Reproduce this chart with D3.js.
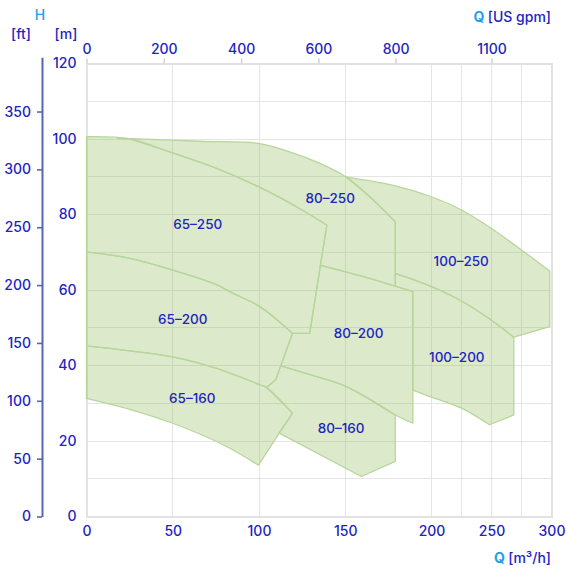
<!DOCTYPE html>
<html>
<head>
<meta charset="utf-8">
<script src="https://cdn.jsdelivr.net/npm/d3@7"></script>
<style>
  html,body{margin:0;padding:0;background:#fff;}
  svg text{font-family:Inter,"Noto Sans",sans-serif;font-weight:500;}
</style>
</head>
<body>
<svg id="chart" width="566" height="570"></svg>
<script>
// ---------- data (Q in m3/h, H in m) ----------
const qTicks = [0, 50, 100, 150, 200, 250, 300];
const qGrid = [0, 50, 100, 150, 200, 225, 250, 275, 300];
const hTicks = [0, 20, 40, 60, 80, 100, 120];
const hGrid = [0, 10, 20, 30, 40, 50, 60, 70, 80, 90, 100, 110, 120];
const ftTicks = [0, 50, 100, 150, 200, 250, 300, 350];
const gpmTicks = [0, 200, 400, 600, 800, 1100];

const top65_250 = [[0,100.6],[25,100.0],[50,96.3],[75,92.3],[100,87.3],[125,81.2],[139.3,77.2]];
const edge65_250 = [[139.3,77.2],[135.6,66.5],[129.4,48.5],[119.4,48.5]];
const top65_200 = [[0,70.1],[25,68.4],[50,65.3],[75,61.5],[85,59.1],[100.5,55.6],[119.4,48.5]];
const edge65_200 = [[119.4,48.5],[112.6,39.9],[109.7,36.2],[104.3,34.2]];
const top65_160 = [[0,45.2],[25,43.9],[50,42.3],[75,39.3],[100.5,34.9],[104.3,34.2],[119.4,27.4]];
const edge65_160 = [[119.4,27.4],[111.7,22.1],[99.7,13.6]];
const bottom65_160 = [[99.7,13.6],[79.2,19.0],[50,24.7],[25,28.4],[0,31.3]];
const top80_250 = [[18,100.2],[65.5,99.4],[100.3,98.8],[117.7,96.6],[135,93.6],[150.6,89.9],[164.2,84.7],[179,78.1]];
const edge80_250 = [[179,78.1],[179,64.4],[179,61.0]];
const top80_200 = [[135.6,66.5],[160,63.6],[179,61.0],[189.2,59.6]];
const edge80_200 = [[189.2,59.6],[189.2,33.5],[189.2,24.7]];
const top80_160 = [[112.6,39.9],[130,37.5],[150.7,34.4],[179,26.9],[189.2,24.7]];
const edge80_160 = [[179,26.9],[179,14.6],[159.4,10.6],[111.7,22.1],[119.4,27.4]];
const top100_250 = [[150.6,89.9],[179,87.6],[200,84.7],[225,81.2],[250,76.3],[275,70.6],[298.5,65.0]];
const edge100_250 = [[298.5,65.0],[298.5,50.3],[268.6,47.5]];
const top100_200 = [[179,64.4],[200,60.9],[225,57.1],[245.8,52.9],[268.6,47.5]];
const edge100_200 = [[268.6,47.5],[268.6,26.9],[248.3,24.3]];
const bottom100_200 = [[248.3,24.3],[225,28.7],[200,31.6],[189.2,33.5]];

const labels = ["65–250","80–250","100–250","65–200","80–200","100–200","65–160","80–160"];
const labelQ = [64.5,141.3,224.75,55.8,157.7,221.1,61.3,147.6];
const labelH = [77.6,84.4,67.6,52.3,48.6,42.3,31.4,23.5];

const M_PER_FT = 0.3065;
const FT_AXIS_MAX = 397;
const gpmBreaks = [0, 892.8, 1100, 1320];
const qBreaks = [0, 200, 250, 300];

// ---------- helpers ----------
const rev = a => a.slice().reverse();
const S = (pts) => ({pts, smooth:true});
const L = (pts) => ({pts, smooth:false});

const polygons = [
  [S(top65_250), L(edge65_250), S(rev(top65_200))],
  [S(top65_200), L(edge65_200), S(rev(top65_160.slice(0,6)))],
  [S(top65_160), L(edge65_160), S(bottom65_160)],
  [S(top80_250), L(edge80_250), S(rev(top80_200.slice(0,3))), L(edge65_250.slice(0,2).reverse()), S(rev(top65_250).slice(0,6))],
  [S(top80_200), L(edge80_200), S(rev(top80_160)), L([[112.6,39.9],[119.4,48.5],[129.4,48.5],[135.6,66.5]])],
  [S(top80_160.slice(0,4)), L(edge80_160), S(rev(top65_160.slice(5))), L([[104.3,34.2],[109.7,36.2],[112.6,39.9]])],
  [S(top100_250), L(edge100_250), S(rev(top100_200)), L([[179,64.4],[179,78.1]]), S(rev(top80_250).slice(0,3))],
  [S(top100_200), L(edge100_200), S(bottom100_200), L([[189.2,33.5],[189.2,59.6],[179,61.0],[179,64.4]])]
];

// ---------- scales ----------
const x = d3.scaleLinear().domain([0,200,300]).range([86.5,431.5,551.5]);
const y = d3.scaleLinear().domain([0,120]).range([516.5,63.5]);
const xGpm = d3.scaleLinear().domain(gpmBreaks).range(qBreaks.map(x));
const yFt = d3.scaleLinear().domain([0, FT_AXIS_MAX]).range([y(0), y(FT_AXIS_MAX*M_PER_FT)]);

const TXT = "#2224bf", LIGHT = "#1e9ff0";
const svg = d3.select("#chart");
const crisp = v => Math.floor(v) + 0.5;

// grid
const grid = svg.append("g");
grid.selectAll("line.v").data(qGrid.filter(d=>d!==0 && d!==300)).join("line")
  .attr("x1",d=>crisp(x(d))).attr("x2",d=>crisp(x(d))).attr("y1",y(0)).attr("y2",y(120))
  .attr("stroke","#e5e5e5").attr("stroke-width",1);
grid.selectAll("line.h").data(hGrid.filter(d=>d!==0 && d!==120)).join("line")
  .attr("x1",x(0)).attr("x2",x(300)).attr("y1",d=>crisp(y(d))).attr("y2",d=>crisp(y(d)))
  .attr("stroke","#e5e5e5").attr("stroke-width",1);
// frame
grid.append("rect").attr("x",Math.round(x(0))).attr("y",Math.round(y(120)))
  .attr("width",Math.round(x(300))-Math.round(x(0))).attr("height",Math.round(y(0))-Math.round(y(120)))
  .attr("fill","none").attr("stroke","#e2e2e2").attr("stroke-width",2);

// polygons
function pathFor(pieces){
  let d = "";
  pieces.forEach((p,i)=>{
    const gen = d3.line().x(v=>x(v[0])).y(v=>y(v[1]))
      .curve(p.smooth ? d3.curveCatmullRom.alpha(0.5) : d3.curveLinear);
    let s = gen(p.pts);
    if(i>0) s = "L" + s.slice(1);
    d += s;
  });
  return d + "Z";
}
const fills = svg.append("g").attr("opacity",0.33);
fills.selectAll("path").data(polygons).join("path")
  .attr("d",pathFor).attr("fill","rgb(150,192,100)").attr("stroke","none");
svg.append("g").selectAll("path").data(polygons).join("path")
  .attr("d",pathFor).attr("fill","none").attr("stroke","#b7d69b")
  .attr("stroke-width",1.3).attr("stroke-linejoin","round");

// region labels
svg.append("g").selectAll("text").data(labels).join("text")
  .attr("x",(d,i)=>x(labelQ[i])).attr("y",(d,i)=>y(labelH[i]))
  .attr("text-anchor","middle").attr("dominant-baseline","central")
  .attr("font-size",13.5).attr("fill",TXT).text(d=>d);

// bottom axis
const gx = svg.append("g").attr("transform",`translate(0,${y(0)})`)
  .call(d3.axisBottom(x).tickValues(qTicks).tickSize(0).tickPadding(10).tickFormat(d3.format("d")));
gx.select(".domain").remove();
gx.selectAll("text").attr("font-size",14).attr("fill",TXT).attr("font-family",null);

// left m axis
const gy = svg.append("g").attr("transform",`translate(${x(0)},0)`)
  .call(d3.axisLeft(y).tickValues(hTicks).tickSize(0).tickPadding(10).tickFormat(d3.format("d")));
gy.select(".domain").remove();
gy.selectAll("text").attr("font-size",14).attr("fill",TXT).attr("font-family",null);

// ft axis
const gf = svg.append("g").attr("transform","translate(42,0)")
  .call(d3.axisLeft(yFt).tickValues(ftTicks).tickSize(5).tickSizeOuter(0).tickPadding(6).tickFormat(d3.format("d")));
gf.select(".domain").attr("stroke","#5567b0").attr("stroke-width",2);
gf.selectAll(".tick line").attr("stroke","#5567b0").attr("stroke-width",1.6);
gf.selectAll("text").attr("font-size",14).attr("fill",TXT).attr("font-family",null);

// top gpm axis
const gt = svg.append("g").attr("transform",`translate(0,${y(120)})`)
  .call(d3.axisTop(xGpm).tickValues(gpmTicks).tickSize(5).tickPadding(5).tickFormat(d3.format("d")));
gt.select(".domain").remove();
gt.selectAll(".tick line").attr("stroke","#d2d2d2").attr("stroke-width",1.5);
gt.selectAll("text").attr("font-size",14).attr("fill",TXT).attr("font-family",null);

// titles
const t = svg.append("g").attr("font-size",14);
t.append("text").attr("x",40).attr("y",14).attr("text-anchor","middle").attr("dominant-baseline","central")
  .attr("fill",LIGHT).attr("font-weight",700).text("H");
t.append("text").attr("x",21).attr("y",33).attr("text-anchor","middle").attr("dominant-baseline","central")
  .attr("fill",TXT).text("[ft]");
t.append("text").attr("x",66).attr("y",33).attr("text-anchor","middle").attr("dominant-baseline","central")
  .attr("fill",TXT).text("[m]");
const tq = t.append("text").attr("x",551).attr("y",16).attr("text-anchor","end").attr("dominant-baseline","central");
tq.append("tspan").attr("fill",LIGHT).attr("font-weight",700).text("Q ");
tq.append("tspan").attr("fill",TXT).text("[US gpm]");
const tb = t.append("text").attr("x",551).attr("y",557).attr("text-anchor","end").attr("dominant-baseline","central");
tb.append("tspan").attr("fill",LIGHT).attr("font-weight",700).text("Q ");
tb.append("tspan").attr("fill",TXT).text("[m³/h]");
</script>
</body>
</html>
